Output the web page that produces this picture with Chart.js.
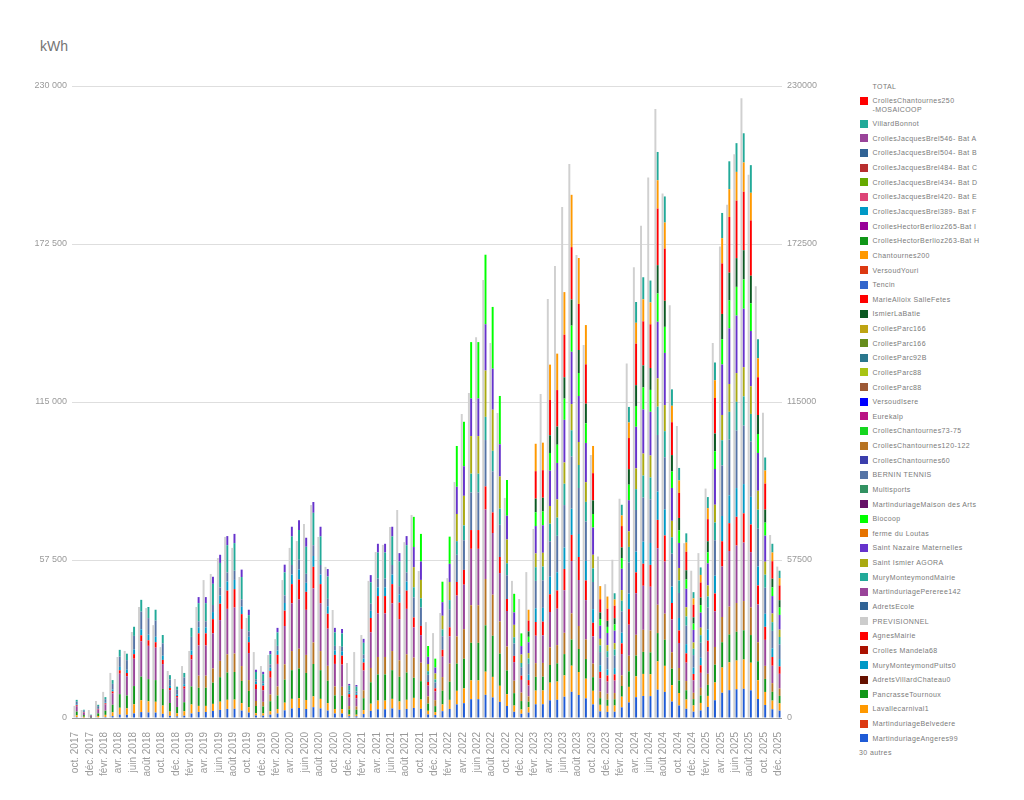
<!DOCTYPE html>
<html lang="fr">
<head>
<meta charset="utf-8">
<title>kWh</title>
<script src="https://cdn.jsdelivr.net/npm/chart.js@4.4.1/dist/chart.umd.min.js"></script>
<style>
  html, body { margin: 0; padding: 0; background: #fff; }
  body { width: 1024px; height: 800px; position: relative; overflow: hidden; font-family: "Liberation Sans", Arial, sans-serif; }
  #titre { position: absolute; left: 40px; top: 38px; font-size: 14px; color: #757575; }
  #graph { position: absolute; left: 0; top: 0; }
  .leg { position: absolute; font-size: 7px; line-height: 9px; color: #7a7a7a; letter-spacing: 0.4px; white-space: nowrap; }
  .pastille { position: absolute; left: 860px; width: 8px; height: 8px; }
</style>
</head>
<body>
<div id="titre">kWh</div>
<canvas id="graph" width="850" height="800"></canvas>
<div id="legende"></div>
<script>
const mois = [
  'oct. 2017','nov. 2017','déc. 2017',
  'janv. 2018','févr. 2018','mars 2018','avr. 2018','mai 2018','juin 2018','juil. 2018','août 2018','sept. 2018','oct. 2018','nov. 2018','déc. 2018',
  'janv. 2019','févr. 2019','mars 2019','avr. 2019','mai 2019','juin 2019','juil. 2019','août 2019','sept. 2019','oct. 2019','nov. 2019','déc. 2019',
  'janv. 2020','févr. 2020','mars 2020','avr. 2020','mai 2020','juin 2020','juil. 2020','août 2020','sept. 2020','oct. 2020','nov. 2020','déc. 2020',
  'janv. 2021','févr. 2021','mars 2021','avr. 2021','mai 2021','juin 2021','juil. 2021','août 2021','sept. 2021','oct. 2021','nov. 2021','déc. 2021',
  'janv. 2022','févr. 2022','mars 2022','avr. 2022','mai 2022','juin 2022','juil. 2022','août 2022','sept. 2022','oct. 2022','nov. 2022','déc. 2022',
  'janv. 2023','févr. 2023','mars 2023','avr. 2023','mai 2023','juin 2023','juil. 2023','août 2023','sept. 2023','oct. 2023','nov. 2023','déc. 2023',
  'janv. 2024','févr. 2024','mars 2024','avr. 2024','mai 2024','juin 2024','juil. 2024','août 2024','sept. 2024','oct. 2024','nov. 2024','déc. 2024',
  'janv. 2025','févr. 2025','mars 2025','avr. 2025','mai 2025','juin 2025','juil. 2025','août 2025','sept. 2025','oct. 2025','nov. 2025','déc. 2025'
];

const yTicks = [0, 57500, 115000, 172500, 230000];

// barre grise (prévisionnel)
const previsionnel = [
  4400,2900,2900,6200,9500,16400,22200,24400,31300,40400,40000,33800,25800,17100,14200,18900,24400,
  40400,50200,52400,58200,65900,61900,51300,36400,24000,18900,22900,28700,50200,61900,64400,70600,77500,65900,55000,39300,26200,20000,24000,30200,49900,60400,63000,69500,75700,64000,73900,
  53500,34900,30900,38200,50900,85900,110600,118300,138600,159400,136500,111000,80100,49900,43300,
  53100,68800,117900,152500,164500,186000,201600,168500,135700,95700,58800,48700,57600,79800,129000,164000,179100,196700,221600,190900,150200,106300,63600,53600,60000,83500,136500,171600,186800,205200,225500,197700,157100,111100,66600,55100
];

// barres empilées, du bas vers le haut
const martinduriageAngeres99 = [
  330,150,60,240,380,690,1240,1170,1660,2150,2020,1970,1510,780,570,820,1640,
  2200,2200,2570,2970,3310,3350,2700,1970,880,840,1220,1640,2790,3480,3600,3280,3930,3480,2710,1640,1620,620,600,1440,2600,3170,3170,3480,3000,3310,
  3660,3350,1310,1080,2480,3300,4950,5390,6840,6840,8430,7480,5860,4330,2260,1540,
  1970,4990,5010,6430,6630,7750,9520,8370,7150,4950,2400,2210,2270,3880,5660,7570,8020,7960,10300,9490,5980,4550,3360,2290,2740,4020,6470,9190,10130,10460,10640,10060,6890,4740,3170,2680
];
const lavallecarnival1 = [
  660,300,120,480,760,1380,2480,2340,3320,4300,4040,3940,3020,1560,1140,1640,3280,
  2200,2200,2570,2970,3310,3350,2700,1970,880,840,1220,1640,2790,3480,3600,3280,3930,3480,2710,1640,1620,620,600,1440,2600,3170,3170,3480,3000,3310,
  3660,3350,1310,1080,2480,3300,4950,5390,6840,6840,8430,7480,5860,4330,2260,1540,
  1970,4990,5010,6430,6630,7750,9520,8370,7150,4950,2400,2210,2270,3880,5660,7570,8020,7960,10300,9490,5980,4550,3360,2290,2740,4020,6470,9190,10130,10460,10640,10060,6890,4740,3170,2680
];
const pancrasseTournoux = [
  1320,600,240,960,1520,2760,4960,4680,6640,8600,8080,7880,6040,3120,2280,3280,6560,
  6600,6600,7710,8910,9930,10050,8100,5910,2640,2520,3660,4920,8370,10440,10800,9840,11790,10440,8130,4920,4860,1860,1800,4320,7800,9510,9510,10440,9000,9930,
  7320,6700,2620,2160,4960,6600,9900,10780,13680,13680,16860,14960,11720,8660,4520,3080,
  1970,4990,5010,6430,6630,7750,9520,8370,7150,4950,2400,2210,2270,3880,5660,7570,8020,7960,10300,9490,5980,4550,3360,2290,2740,4020,6470,9190,10130,10460,10640,10060,6890,4740,3170,2680
];
const crollesChantournes120 = [
  0,0,0,0,0,0,0,0,0,0,0,0,0,0,0,0,0,
  4400,4400,5140,5940,6620,6700,5400,3940,1760,1680,2440,3280,5580,6960,7200,6560,7860,6960,5420,3280,3240,1240,1200,2880,5200,6340,6340,6960,6000,6620,
  7320,6700,2620,2160,4960,6600,9900,10780,13680,13680,16860,14960,11720,8660,4520,3080,
  1970,4990,5010,6430,6630,7750,9520,8370,7150,4950,2400,2210,2270,3880,5660,7570,8020,7960,10300,9490,5980,4550,3360,2290,2740,4020,6470,9190,10130,10460,10640,10060,6890,4740,3170,2680
];
const martinduriagePereree142 = [
  1980,900,360,1440,2280,4140,7440,7020,9960,12900,12120,11820,9060,4680,3420,4920,9840,
  11000,11000,12850,14850,16550,16750,13500,9850,4400,4200,6100,8200,13950,17400,18000,16400,19650,17400,13550,8200,8100,3100,3000,7200,13000,15850,15850,17400,15000,16550,
  10980,10050,3930,3240,7440,9900,14850,16170,20520,20520,25290,22440,17580,12990,6780,4620,
  3940,9980,10020,12860,13260,15500,19040,16740,14300,9900,4800,4420,4540,7760,11320,15140,16040,15920,20600,18980,11960,9100,6720,4580,5480,8040,12940,18380,20260,20920,21280,20120,13780,9480,6340,5360
];
const agnesMairie = [
  330,150,60,240,380,690,1240,1170,1660,2150,2020,1970,1510,780,570,820,1640,
  4400,4400,5140,5940,6620,6700,5400,3940,1760,1680,2440,3280,5580,6960,7200,6560,7860,6960,5420,3280,3240,1240,1200,2880,5200,6340,6340,6960,6000,6620,
  3660,3350,1310,1080,2480,3300,4950,5390,6840,6840,8430,7480,5860,4330,2260,1540,
  1970,4990,5010,6430,6630,7750,9520,8370,7150,4950,2400,2210,2270,3880,5660,7570,8020,7960,10300,9490,5980,4550,3360,2290,2740,4020,6470,9190,10130,10460,10640,10060,6890,4740,3170,2680
];
const muryMonteymondPuits0 = [
  330,150,60,240,380,690,1240,1170,1660,2150,2020,1970,1510,780,570,820,1640,
  2200,2200,2570,2970,3310,3350,2700,1970,880,840,1220,1640,2790,3480,3600,3280,3930,3480,2710,1640,1620,620,600,1440,2600,3170,3170,3480,3000,3310,
  0,0,0,0,0,0,0,0,0,0,0,0,0,0,0,0,
  1970,4990,5010,6430,6630,7750,9520,8370,7150,4950,2400,2210,2270,3880,5660,7570,8020,7960,10300,9490,5980,4550,3360,2290,2740,4020,6470,9190,10130,10460,10640,10060,6890,4740,3170,2680
];
const berninTennis = [
  990,450,180,720,1140,2070,3720,3510,4980,6450,6060,5910,4530,2340,1710,2460,4920,
  2200,2200,2570,2970,3310,3350,2700,1970,880,840,1220,1640,2790,3480,3600,3280,3930,3480,2710,1640,1620,620,600,1440,2600,3170,3170,3480,3000,3310,
  7320,6700,2620,2160,4960,6600,9900,10780,13680,13680,16860,14960,11720,8660,4520,3080,
  3940,9980,10020,12860,13260,15500,19040,16740,14300,9900,4800,4420,4540,7760,11320,15140,16040,15920,20600,18980,11960,9100,6720,4580,5480,8040,12940,18380,20260,20920,21280,20120,13780,9480,6340,5360
];
const muryMonteymondMairie = [
  660,300,120,480,760,1380,2480,2340,3320,4300,4040,3940,3020,1560,1140,1640,3280,
  6600,6600,7710,8910,9930,10050,8100,5910,2640,2520,3660,4920,8370,10440,10800,9840,11790,10440,8130,4920,4860,1860,1800,4320,7800,9510,9510,10440,9000,9930,
  3660,3350,1310,1080,2480,3300,4950,5390,6840,6840,8430,7480,5860,4330,2260,1540,
  1970,4990,5010,6430,6630,7750,9520,8370,7150,4950,2400,2210,2270,3880,5660,7570,8020,7960,10300,9490,5980,4550,3360,2290,2740,4020,6470,9190,10130,10460,10640,10060,6890,4740,3170,2680
];
const saintIsmierAgora = [
  0,0,0,0,0,0,0,0,0,0,0,0,0,0,0,0,0,
  0,0,0,0,0,0,0,0,0,0,0,0,0,0,0,0,0,0,0,0,0,0,0,0,0,0,0,0,0,0,
  7320,6700,2620,2160,4960,6600,9900,10780,13680,13680,16860,14960,11720,8660,4520,3080,
  1970,4990,5010,6430,6630,7750,9520,8370,7150,4950,2400,2210,2270,3880,5660,7570,8020,7960,10300,9490,5980,4550,3360,2290,2740,4020,6470,9190,10130,10460,10640,10060,6890,4740,3170,2680
];
const saintNazaireMaternelles = [
  0,0,0,0,0,0,0,0,0,0,0,0,0,0,0,0,0,
  2200,2200,2570,2970,3310,3350,2700,1970,880,840,1220,1640,2790,3480,3600,3280,3930,3480,2710,1640,1620,620,600,1440,2600,3170,3170,3480,3000,3310,
  7320,6700,2620,2160,4960,6600,9900,10780,13680,13680,16860,14960,11720,8660,4520,3080,
  3940,9980,10020,12860,13260,15500,19040,16740,14300,9900,4800,4420,4540,7760,11320,15140,16040,15920,20600,18980,11960,9100,6720,4580,5480,8040,12940,18380,20260,20920,21280,20120,13780,9480,6340,5360
];
const biocoop = [
  0,0,0,0,0,0,0,0,0,0,0,0,0,0,0,0,0,
  0,0,0,0,0,0,0,0,0,0,0,0,0,0,0,0,0,0,0,0,0,0,0,0,0,0,0,0,0,0,
  10980,10050,3930,3240,7440,9900,14850,16170,20520,20520,25290,22440,17580,12990,6780,4620,
  1970,4990,5010,6430,6630,7750,9520,8370,7150,4950,2400,2210,2270,3880,5660,7570,8020,7960,10300,9490,5980,4550,3360,2290,2740,4020,6470,9190,10130,10460,10640,10060,6890,4740,3170,2680
];
const ismierLaBatie = [
  0,0,0,0,0,0,0,0,0,0,0,0,0,0,0,0,0,
  0,0,0,0,0,0,0,0,0,0,0,0,0,0,0,0,0,0,0,0,0,0,0,0,0,0,0,0,0,0,
  0,0,0,0,0,0,0,0,0,0,0,0,0,0,0,0,
  1970,4990,5010,6430,6630,7750,9520,8370,7150,4950,2400,2210,2270,3880,5660,7570,8020,7960,10300,9490,5980,4550,3360,2290,2740,4020,6470,9190,10130,10460,10640,10060,6890,4740,3170,2680
];
const crollesChantournes250 = [
  0,0,0,0,0,0,0,0,0,0,0,0,0,0,0,0,0,
  0,0,0,0,0,0,0,0,0,0,0,0,0,0,0,0,0,0,0,0,0,0,0,0,0,0,0,0,0,0,
  0,0,0,0,0,0,0,0,0,0,0,0,0,0,0,0,
  3940,9980,10020,12860,13260,15500,19040,16740,14300,9900,4800,4420,4540,7760,11320,15140,16040,15920,20600,18980,11960,9100,6720,4580,5480,8040,12940,18380,20260,20920,21280,20120,13780,9480,6340,5360
];
const chantournes200 = [
  0,0,0,0,0,0,0,0,0,0,0,0,0,0,0,0,0,
  0,0,0,0,0,0,0,0,0,0,0,0,0,0,0,0,0,0,0,0,0,0,0,0,0,0,0,0,0,0,
  0,0,0,0,0,0,0,0,0,0,0,0,0,0,0,0,
  3940,9980,10020,12860,13260,15500,19040,16740,14300,9900,4800,4420,
  2270,3880,5660,7570,8020,7960,10300,9490,5980,4550,3360,2290,2740,4020,6470,9190,10130,10460,10640,10060,6890,4740,3170,2680
];
const villardBonnot = [
  0,0,0,0,0,0,0,0,0,0,0,0,0,0,0,0,0,
  0,0,0,0,0,0,0,0,0,0,0,0,0,0,0,0,0,0,0,0,0,0,0,0,0,0,0,0,0,0,
  0,0,0,0,0,0,0,0,0,0,0,0,0,0,0,0,
  0,0,0,0,0,0,0,0,0,0,0,0,
  2270,3880,5660,7570,8020,7960,10300,9490,5980,4550,3360,2290,2740,4020,6470,9190,10130,10460,10640,10060,6890,4740,3170,2680
];

const legendNames = [
  'VillardBonnot','CrollesJacquesBrel546- Bat A','CrollesJacquesBrel504- Bat B','CrollesJacquesBrel484- Bat C',
  'CrollesJacquesBrel434- Bat D','CrollesJacquesBrel420- Bat E','CrollesJacquesBrel389- Bat F','CrollesHectorBerlioz265-Bat I',
  'CrollesHectorBerlioz263-Bat H','Chantournes200','VersoudYouri','Tencin','MarieAlloix SalleFetes','IsmierLaBatie',
  'CrollesParc166','CrollesParc166','CrollesParc92B','CrollesParc88','CrollesParc88','VersoudIsere','Eurekalp',
  'CrollesChantournes73-75','CrollesChantournes120-122','CrollesChantournes60','BERNIN TENNIS','Multisports',
  'MartinduriageMaison des Arts','Biocoop','ferme du Loutas','Saint Nazaire Maternelles','Saint Ismier AGORA',
  'MuryMonteymondMairie','MartinduriagePereree142','AdretsEcole','PREVISIONNEL','AgnesMairie','Crolles Mandela68',
  'MuryMonteymondPuits0','AdretsVillardChateau0','PancrasseTournoux','Lavallecarnival1','MartinduriageBelvedere',
  'MartinduriageAngeres99'
];
const legendColors = [
  '#22aa99','#994499','#316395','#b82e2e','#66aa00','#dd4477','#0099c6','#990099','#109618','#ff9900','#dc3912',
  '#3366cc','#ff0000','#0c5922','#bea413','#668d1c','#2a778d','#a9c413','#9c5935','#0000ff','#b91383','#16d620',
  '#b77322','#3b3eac','#5574a6','#329262','#651067','#00ff00','#e67300','#6633cc','#aaaa11','#22aa99','#994499',
  '#316395','#cccccc','#ff0000','#aa1100','#0099c6','#661100','#109618','#ff9900','#dc3912','#1f5bd6'
];

const family = '"Liberation Sans", Arial, sans-serif';
const grisTexte = '#9a9a9a';

const empile = [
  ['MartinduriageAngeres99', martinduriageAngeres99, '#1f5bd6'],
  ['Lavallecarnival1', lavallecarnival1, '#ff9900'],
  ['PancrasseTournoux', pancrasseTournoux, '#109618'],
  ['CrollesChantournes120-122', crollesChantournes120, '#b77322'],
  ['MartinduriagePereree142', martinduriagePereree142, '#994499'],
  ['AgnesMairie', agnesMairie, '#ff0000'],
  ['MuryMonteymondPuits0', muryMonteymondPuits0, '#0099c6'],
  ['BERNIN TENNIS', berninTennis, '#5574a6'],
  ['MuryMonteymondMairie', muryMonteymondMairie, '#22aa99'],
  ['Saint Ismier AGORA', saintIsmierAgora, '#aaaa11'],
  ['Saint Nazaire Maternelles', saintNazaireMaternelles, '#6633cc'],
  ['Biocoop', biocoop, '#00ff00'],
  ['IsmierLaBatie', ismierLaBatie, '#0c5922'],
  ['CrollesChantournes250-MOSAICOOP', crollesChantournes250, '#ff0000'],
  ['Chantournes200', chantournes200, '#ff9900'],
  ['VillardBonnot', villardBonnot, '#22aa99']
];

const datasets = [
  { label: 'PREVISIONNEL', data: previsionnel, backgroundColor: '#d0d0d0', stack: 'prev', borderWidth: 0 },
  ...empile.map(([label, data, color]) => ({ label, data, backgroundColor: color, stack: 'prod', borderWidth: 0 }))
];

const espaces = v => String(v).replace(/\B(?=(\d{3})+(?!\d))/g, ' ');

new Chart(document.getElementById('graph'), {
  type: 'bar',
  data: { labels: mois, datasets },
  options: {
    responsive: false,
    animation: false,
    layout: { padding: { top: 86, left: 0, right: 0, bottom: 0 } },
    datasets: { bar: { categoryPercentage: 0.62, barPercentage: 0.88 } },
    plugins: { legend: { display: false }, tooltip: { enabled: false } },
    scales: {
      x: {
        stacked: true,
        grid: { display: false },
        border: { display: false },
        ticks: {
          autoSkip: false, minRotation: 90, maxRotation: 90, padding: 6,
          color: grisTexte, font: { size: 10, family },
          callback: (v, i) => (i % 2 === 0 ? mois[i] : '')
        },
        afterFit: s => { s.height = 82; }
      },
      y: {
        stacked: true,
        position: 'left',
        min: 0, max: 230000,
        afterBuildTicks: s => { s.ticks = yTicks.map(value => ({ value })); },
        ticks: { padding: 5, color: grisTexte, font: { size: 9, family }, callback: v => espaces(v) },
        grid: { drawTicks: false, color: c => (c.tick && c.tick.value === 0 ? '#9a9a9a' : '#dedede') },
        border: { display: false },
        afterFit: s => { s.width = 72; }
      },
      y2: {
        position: 'right',
        min: 0, max: 230000,
        afterBuildTicks: s => { s.ticks = yTicks.map(value => ({ value })); },
        ticks: { padding: 5, color: grisTexte, font: { size: 9, family }, callback: v => String(v) },
        grid: { drawOnChartArea: false, drawTicks: false },
        border: { display: false },
        afterFit: s => { s.width = 68; }
      }
    }
  }
});

// légende à droite
const legende = document.getElementById('legende');
const ajouter = (html, x, y) => {
  const d = document.createElement('div');
  d.className = 'leg';
  d.style.left = x + 'px';
  d.style.top = (y - 4.5) + 'px';
  d.innerHTML = html;
  legende.appendChild(d);
};
const pastille = (color, y) => {
  const p = document.createElement('div');
  p.className = 'pastille';
  p.style.top = (y - 4) + 'px';
  p.style.background = color;
  legende.appendChild(p);
};

ajouter('TOTAL', 872.5, 86);
pastille('#ff0000', 100.5);
ajouter('CrollesChantournes250<br>-MOSAICOOP', 872.5, 100.5);
legendNames.forEach((nom, k) => {
  const y = 123.7 + k * 14.63;
  pastille(legendColors[k], y);
  ajouter(nom, 872.5, y);
});
ajouter('30 autres', 859, 123.7 + legendNames.length * 14.63);
</script>
</body>
</html>
